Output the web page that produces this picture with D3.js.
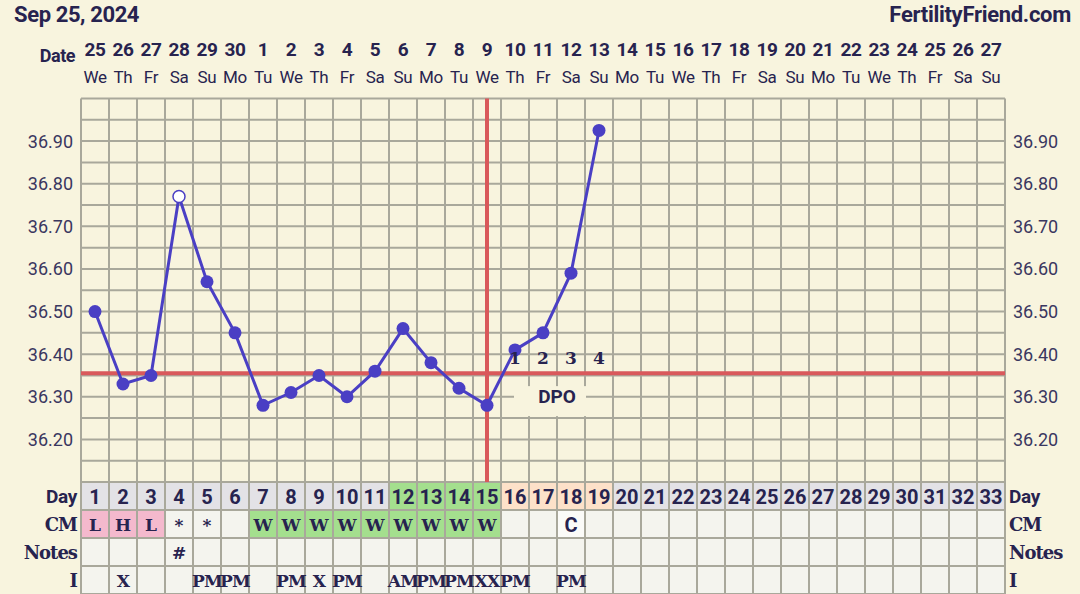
<!DOCTYPE html>
<html><head><meta charset="utf-8">
<script src="https://cdn.jsdelivr.net/npm/d3@7"></script>
<style>
body{margin:0;background:#f8f4de;}
svg{display:block;}
</style></head>
<body>
<svg id="c" width="1080" height="594"></svg>
<script>
const dateLabels = ["25","26","27","28","29","30","1","2","3","4","5","6","7","8","9","10","11","12","13","14","15","16","17","18","19","20","21","22","23","24","25","26","27"];
const weekdays = ["We","Th","Fr","Sa","Su","Mo","Tu","We","Th","Fr","Sa","Su","Mo","Tu","We","Th","Fr","Sa","Su","Mo","Tu","We","Th","Fr","Sa","Su","Mo","Tu","We","Th","Fr","Sa","Su"];
const days = d3.range(1, 34);
const tempDays = [1,2,3,4,5,6,7,8,9,10,11,12,13,14,15,16,17,18,19];
const temps = [36.50,36.33,36.35,36.77,36.57,36.45,36.28,36.31,36.35,36.30,36.36,36.46,36.38,36.32,36.28,36.41,36.45,36.59,36.925];
const openDays = [4];
const yTicks = [36.90,36.80,36.70,36.60,36.50,36.40,36.30,36.20];
const coverline = 36.355;
const ovulationDay = 15;
const dpoDays = [16,17,18,19];
const dpoLabels = ["1","2","3","4"];
const cmValues = ["L","H","L","*","*","","W","W","W","W","W","W","W","W","W","","","C","","","","","","","","","","","","","","",""];
const notesValues = ["","","","#","","","","","","","","","","","","","","","","","","","","","","","","","","","","",""];
const iValues = ["","X","","","PM","PM","","PM","X","PM","","AM","PM","PM","XX","PM","","PM","","","","","","","","","","","","","","",""];
const dayColors = days.map(d => d>=12&&d<=15 ? "#a4df8e" : (d>=16&&d<=19 ? "#fde1c9" : "#e3e2e6"));
const cmColors = cmValues.map((v,i) => v==="L"||v==="H" ? "#f4b9cd" : (v==="W" ? "#a4df8e" : (v==="C" ? "#fbfbf8" : "#f4f4ee")));

const svg = d3.select("#c");
const ink = "#27234f";
const gridC = "#a9a89b";
const x = d3.scaleBand().domain(days).range([81, 1005]).padding(0);
const y = d3.scaleLinear().domain([36.10, 37.00]).range([482, 98.5]);
const cx = d => x(d) + x.bandwidth()/2;

// plot area grid
const g = svg.append("g");
const hLines = d3.range(0, 19).map(i => 36.10 + i*0.05);
g.selectAll("line.h").data(hLines).join("line")
  .attr("x1", 81).attr("x2", 1005).attr("y1", d=>y(d)).attr("y2", d=>y(d))
  .attr("stroke", gridC).attr("stroke-width", 2);
g.selectAll("line.v").data(d3.range(0,34)).join("line")
  .attr("x1", i=>81+i*x.bandwidth()).attr("x2", i=>81+i*x.bandwidth())
  .attr("y1", 98.5).attr("y2", 594)
  .attr("stroke", gridC).attr("stroke-width", 2);

// table rows
const rowTop = [482, 510, 538, 566];
const rowH = 28;
const tbl = svg.append("g");
function row(r, colors, vals, fontFam, size, weight) {
  tbl.selectAll(null).data(days).join("rect")
    .attr("x", d=>x(d)).attr("y", rowTop[r]).attr("width", x.bandwidth()).attr("height", rowH)
    .attr("fill", (d,i)=>colors[i]).attr("stroke", gridC).attr("stroke-width", 2);
  tbl.selectAll(null).data(days).join("text")
    .attr("x", d=>cx(d)).attr("y", rowTop[r]+rowH/2+1)
    .attr("text-anchor","middle").attr("dominant-baseline","central")
    .attr("font-family", fontFam).attr("font-size", size).attr("font-weight", weight)
    .attr("fill", ink).attr("letter-spacing", r===3 ? "-0.8" : "0").text((d,i)=>vals[i]);
}
row(0, dayColors, days.map(String), "Roboto", 20, "bold");
row(1, cmColors, cmValues, "DejaVu Serif", 17, "bold");
row(2, days.map(()=>"#f4f4ee"), notesValues, "DejaVu Serif", 17, "bold");
row(3, days.map(()=>"#f4f4ee"), iValues, "DejaVu Serif", 17, "bold");
tbl.selectAll("text").filter(function(){return d3.select(this).text()==="C";}).attr("font-family","Roboto").attr("font-size",20);

const rowLabels = ["Day","CM","Notes","I"];
const rowFonts = ["Roboto","DejaVu Serif","DejaVu Serif","DejaVu Serif"];
const rowSizes = [19,18,18,18];
rowLabels.forEach((t,i)=>{
  svg.append("text").attr("x",77).attr("y",rowTop[i]+rowH/2)
    .attr("text-anchor","end").attr("dominant-baseline","central")
    .attr("font-family",rowFonts[i]).attr("font-size",rowSizes[i]).attr("font-weight","bold")
    .attr("fill",ink).attr("letter-spacing", i>0?"-1":"-0.3").text(t);
  svg.append("text").attr("x",1009).attr("y",rowTop[i]+rowH/2)
    .attr("text-anchor","start").attr("dominant-baseline","central")
    .attr("font-family",rowFonts[i]).attr("font-size",rowSizes[i]).attr("font-weight","bold")
    .attr("fill",ink).attr("letter-spacing", i>0?"-1":"-0.3").text(t);
});

// y labels
const fmt = d3.format(".2f");
svg.selectAll("text.yl").data(yTicks).join("text")
  .attr("x", 73).attr("y", d=>y(d)).attr("text-anchor","end").attr("dominant-baseline","central")
  .attr("font-family","Roboto").attr("font-size",18).attr("fill","#3a3760").text(fmt);
svg.selectAll("text.yr").data(yTicks).join("text")
  .attr("x", 1013).attr("y", d=>y(d)).attr("text-anchor","start").attr("dominant-baseline","central")
  .attr("font-family","Roboto").attr("font-size",18).attr("fill","#3a3760").text(fmt);

// header
svg.append("text").attr("x",14).attr("y",22).attr("font-family","Roboto").attr("font-weight","bold")
  .attr("font-size",22).attr("fill",ink).attr("letter-spacing","-0.4").text("Sep 25, 2024");
svg.append("text").attr("x",1071).attr("y",22).attr("text-anchor","end").attr("font-family","Roboto").attr("font-weight","bold")
  .attr("font-size",22).attr("fill",ink).attr("letter-spacing","-0.3").text("FertilityFriend.com");
svg.append("text").attr("x",75).attr("y",55).attr("text-anchor","end").attr("dominant-baseline","central")
  .attr("font-family","Roboto").attr("font-weight","bold").attr("font-size",18).attr("fill",ink).attr("letter-spacing","-0.5").text("Date");
svg.selectAll("text.dt").data(days).join("text")
  .attr("x", d=>cx(d)).attr("y",49).attr("text-anchor","middle").attr("dominant-baseline","central")
  .attr("font-family","Roboto").attr("font-weight","bold").attr("font-size",19).attr("fill",ink).attr("letter-spacing","-0.4")
  .text((d,i)=>dateLabels[i]);
svg.selectAll("text.wd").data(days).join("text")
  .attr("x", d=>cx(d)).attr("y",77).attr("text-anchor","middle").attr("dominant-baseline","central")
  .attr("font-family","Roboto").attr("font-size",17).attr("fill",ink).attr("letter-spacing","-0.3")
  .text((d,i)=>weekdays[i]);

// coverline and ovulation line
svg.append("line").attr("x1",81).attr("x2",1005).attr("y1",y(coverline)).attr("y2",y(coverline))
  .attr("stroke","#d9595b").attr("stroke-width",4);
svg.append("line").attr("x1",cx(ovulationDay)).attr("x2",cx(ovulationDay)).attr("y1",98.5).attr("y2",482)
  .attr("stroke","#d9595b").attr("stroke-width",4);

// DPO box
svg.append("rect").attr("x",cx(16)-1).attr("y",y(36.325)).attr("width",72).attr("height",30).attr("fill","#f8f4de");
svg.append("text").attr("x",(cx(17)+cx(18))/2).attr("y",y(36.30)).attr("text-anchor","middle").attr("dominant-baseline","central")
  .attr("font-family","Roboto").attr("font-weight","bold").attr("font-size",19).attr("fill",ink).text("DPO");

// temperature line
const pts = tempDays.map((d,i)=>({d, t: temps[i]}));
svg.append("path").datum(pts)
  .attr("d", d3.line().x(p=>cx(p.d)).y(p=>y(p.t)))
  .attr("fill","none").attr("stroke","#4a3fc4").attr("stroke-width",3);
svg.selectAll("circle.pt").data(pts).join("circle")
  .attr("cx", p=>cx(p.d)).attr("cy", p=>y(p.t))
  .attr("r", p=>openDays.includes(p.d) ? 6 : 6.5)
  .attr("fill", p=>openDays.includes(p.d) ? "#ffffff" : "#4a3fc4")
  .attr("stroke","#4a3fc4").attr("stroke-width", p=>openDays.includes(p.d) ? 1.5 : 0);

// DPO numbers
svg.selectAll("text.dpo").data(dpoDays).join("text")
  .attr("x", d=>cx(d)).attr("y", 358).attr("text-anchor","middle").attr("dominant-baseline","central")
  .attr("font-family","DejaVu Serif").attr("font-weight","bold").attr("font-size",17).attr("fill",ink)
  .text((d,i)=>dpoLabels[i]);
</script>
</body></html>
